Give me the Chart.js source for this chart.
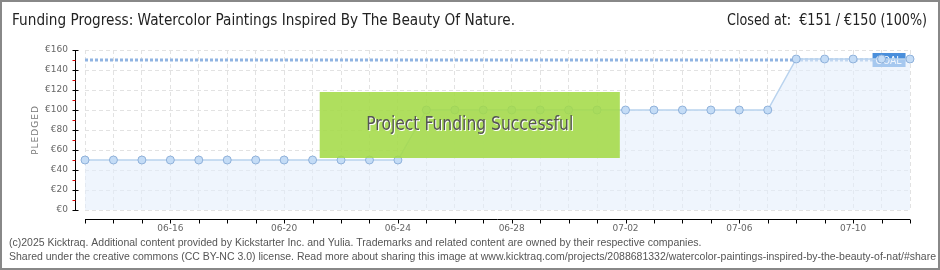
<!DOCTYPE html>
<html>
<head>
<meta charset="utf-8">
<script src="https://cdn.jsdelivr.net/npm/chart.js@4.4.1/dist/chart.umd.min.js"></script>
<style>
  html, body { margin: 0; padding: 0; background: #fff; }
  #wrap { width: 940px; height: 270px; position: relative; }
</style>
</head>
<body>
<div id="wrap"><canvas id="fundChart" width="940" height="270"></canvas></div>
<script>
// data
const dates = ['06-13', '06-14', '06-15', '06-16', '06-17', '06-18', '06-19', '06-20', '06-21', '06-22',
               '06-23', '06-24', '06-25', '06-26', '06-27', '06-28', '06-29', '06-30', '07-01', '07-02',
               '07-03', '07-04', '07-05', '07-06', '07-07', '07-08', '07-09', '07-10', '07-11', '07-12'];
const pledged = [50, 50, 50, 50, 50, 50, 50, 50, 50, 50, 50, 50,
                 100, 100, 100, 100, 100, 100, 100, 100, 100, 100, 100, 100, 100,
                 151, 151, 151, 151, 151];
const goalValue = 150;
const goalLine = dates.map(() => goalValue);
const yTicks = [0, 20, 40, 60, 80, 100, 120, 140, 160];
const yMinorTicks = [10, 30, 50, 70, 90, 110, 130, 150];
const xTickLabels = ['06-16', '06-20', '06-24', '06-28', '07-02', '07-06', '07-10'];

const titleText = 'Funding Progress: Watercolor Paintings Inspired By The Beauty Of Nature.';
const closedText = 'Closed at:  €151 / €150 (100%)';
const footer1 = '(c)2025 Kicktraq. Additional content provided by Kickstarter Inc. and Yulia. Trademarks and related content are owned by their respective companies.';
const footer2 = 'Shared under the creative commons (CC BY-NC 3.0) license. Read more about sharing this image at www.kicktraq.com/projects/2088681332/watercolor-paintings-inspired-by-the-beauty-of-nat/#share';

// draw text squeezed to a given width (the original uses a narrow font)
function fitText(ctx, text, x, y, width, align) {
    const w = ctx.measureText(text).width;
    const k = Math.min(1, width / w);
    ctx.save();
    ctx.textAlign = 'left';
    let left = x;
    if (align === 'right') left = x - w * k;
    if (align === 'center') left = x - w * k / 2;
    ctx.translate(left, y);
    ctx.scale(k, 1);
    ctx.fillText(text, 0, 0);
    ctx.restore();
}

// extra drawing: axes offset from plot, title, goal tag, success banner, footer
const decorations = {
    id: 'decorations',
    afterDatasetDraw(chart, args) {
        // GOAL tag sits over the goal line but under the points
        if (args.index !== 1) return;
        const ctx = chart.ctx;
        const x = chart.scales.x, y = chart.scales.y;
        const gy = y.getPixelForValue(goalValue);
        const gx = x.getPixelForValue(dates.length - 2);
        ctx.save();
        ctx.fillStyle = '#4a8fdb';
        ctx.fillRect(gx - 9, gy - 7, 33, 14);
        ctx.fillStyle = '#fff';
        ctx.font = '10px "DejaVu Sans", sans-serif';
        ctx.textBaseline = 'middle';
        fitText(ctx, 'GOAL', gx + 7, gy + 1, 26, 'center');
        ctx.restore();
    },
    afterDraw(chart) {
        const ctx = chart.ctx;
        const area = chart.chartArea;
        const x = chart.scales.x, y = chart.scales.y;
        ctx.save();

        // success banner
        const bx = x.getPixelForValue(8.25), bx2 = x.getPixelForValue(18.8);
        const by = y.getPixelForValue(118), by2 = y.getPixelForValue(52);
        ctx.fillStyle = 'rgba(164, 219, 72, 0.88)';
        ctx.fillRect(bx, by, bx2 - bx, by2 - by);
        ctx.font = '19px "DejaVu Sans", sans-serif';
        ctx.textBaseline = 'middle';
        const cx = (bx + bx2) / 2, cy = (by + by2) / 2;
        ctx.fillStyle = '#ffffff';
        fitText(ctx, 'Project Funding Successful', cx + 1, cy + 1, 207, 'center');
        ctx.fillStyle = '#555555';
        fitText(ctx, 'Project Funding Successful', cx, cy, 207, 'center');

        // y axis line and ticks
        const axX = area.left - 9.5;
        ctx.strokeStyle = '#000';
        ctx.lineWidth = 1;
        ctx.beginPath();
        ctx.moveTo(axX, area.top);
        ctx.lineTo(axX, area.bottom);
        yTicks.forEach(v => {
            const py = Math.round(y.getPixelForValue(v)) + 0.5;
            ctx.moveTo(axX - 3, py);
            ctx.lineTo(axX + 3, py);
        });
        ctx.stroke();
        ctx.strokeStyle = '#e00000';
        ctx.beginPath();
        yMinorTicks.forEach(v => {
            const py = Math.round(y.getPixelForValue(v)) + 0.5;
            ctx.moveTo(axX - 3, py);
            ctx.lineTo(axX, py);
        });
        ctx.stroke();

        // x axis line and ticks
        const axY = area.bottom + 9.5;
        ctx.strokeStyle = '#000';
        ctx.beginPath();
        ctx.moveTo(area.left, axY);
        ctx.lineTo(area.right, axY);
        dates.forEach((d, i) => {
            const px = Math.round(x.getPixelForValue(i)) + 0.5;
            ctx.moveTo(px, axY);
            ctx.lineTo(px, axY + 4);
        });
        ctx.stroke();

        // y title
        ctx.save();
        ctx.translate(36, (area.top + area.bottom) / 2);
        ctx.rotate(-Math.PI / 2);
        ctx.fillStyle = '#777';
        ctx.font = '9px "DejaVu Sans", sans-serif';
        ctx.letterSpacing = '1px';
        ctx.textAlign = 'center';
        ctx.textBaseline = 'middle';
        ctx.fillText('PLEDGED', 0, 0);
        ctx.restore();

        // titles
        ctx.fillStyle = '#222';
        ctx.font = '16px "DejaVu Sans", sans-serif';
        ctx.textBaseline = 'middle';
        fitText(ctx, titleText, 12, 21, 503, 'left');
        fitText(ctx, closedText, 927, 21, 200, 'right');

        // footer
        ctx.fillStyle = '#555';
        ctx.font = '10.5px "Liberation Sans", sans-serif';
        ctx.textAlign = 'left';
        ctx.fillText(footer1, 9, 243);
        ctx.fillText(footer2, 9, 257);

        // frame
        ctx.strokeStyle = '#888';
        ctx.lineWidth = 2;
        ctx.strokeRect(1, 1, 938, 268);
        ctx.restore();
    }
};

const ctx = document.getElementById('fundChart');
new Chart(ctx, {
    type: 'line',
    data: {
        labels: dates,
        datasets: [{
            label: 'Pledged',
            data: pledged,
            borderColor: '#b9d3ee',
            borderWidth: 1.5,
            backgroundColor: 'rgba(228, 238, 251, 0.6)',
            fill: 'origin',
            tension: 0,
            pointRadius: 4,
            pointBackgroundColor: '#c4dcf6',
            pointBorderColor: '#8fb1da',
            pointBorderWidth: 1,
            order: 1
        }, {
            label: 'Goal',
            data: goalLine,
            borderColor: '#90b4e2',
            borderWidth: 3,
            borderDash: [3, 2],
            pointRadius: 0,
            fill: false,
            order: 2
        }]
    },
    options: {
        responsive: false,
        animation: false,
        devicePixelRatio: 1,
        layout: { padding: { left: 0, top: 50, right: 30, bottom: 0 } },
        plugins: {
            legend: { display: false },
            tooltip: { enabled: false }
        },
        scales: {
            x: {
                type: 'category',
                offset: false,
                afterFit: s => { s.height = 60; },
                grid: { color: '#e2e2e2', drawTicks: false },
                border: { display: false, dash: [4, 3] },
                ticks: {
                    autoSkip: false,
                    maxRotation: 0,
                    padding: 13,
                    color: '#666',
                    font: { size: 9, family: '"DejaVu Sans", sans-serif' },
                    callback: (v, i) => xTickLabels.includes(dates[i]) ? dates[i] : ''
                }
            },
            y: {
                min: 0,
                max: 160,
                afterFit: s => { s.width = 85; },
                afterBuildTicks: s => { s.ticks = yTicks.map(v => ({ value: v })); },
                grid: { color: '#e2e2e2', drawTicks: false },
                border: { display: false, dash: [4, 3] },
                ticks: {
                    padding: 17,
                    color: '#666',
                    font: { size: 9, family: '"DejaVu Sans", sans-serif' },
                    callback: v => '€' + v
                }
            }
        }
    },
    plugins: [decorations]
});
</script>
</body>
</html>
